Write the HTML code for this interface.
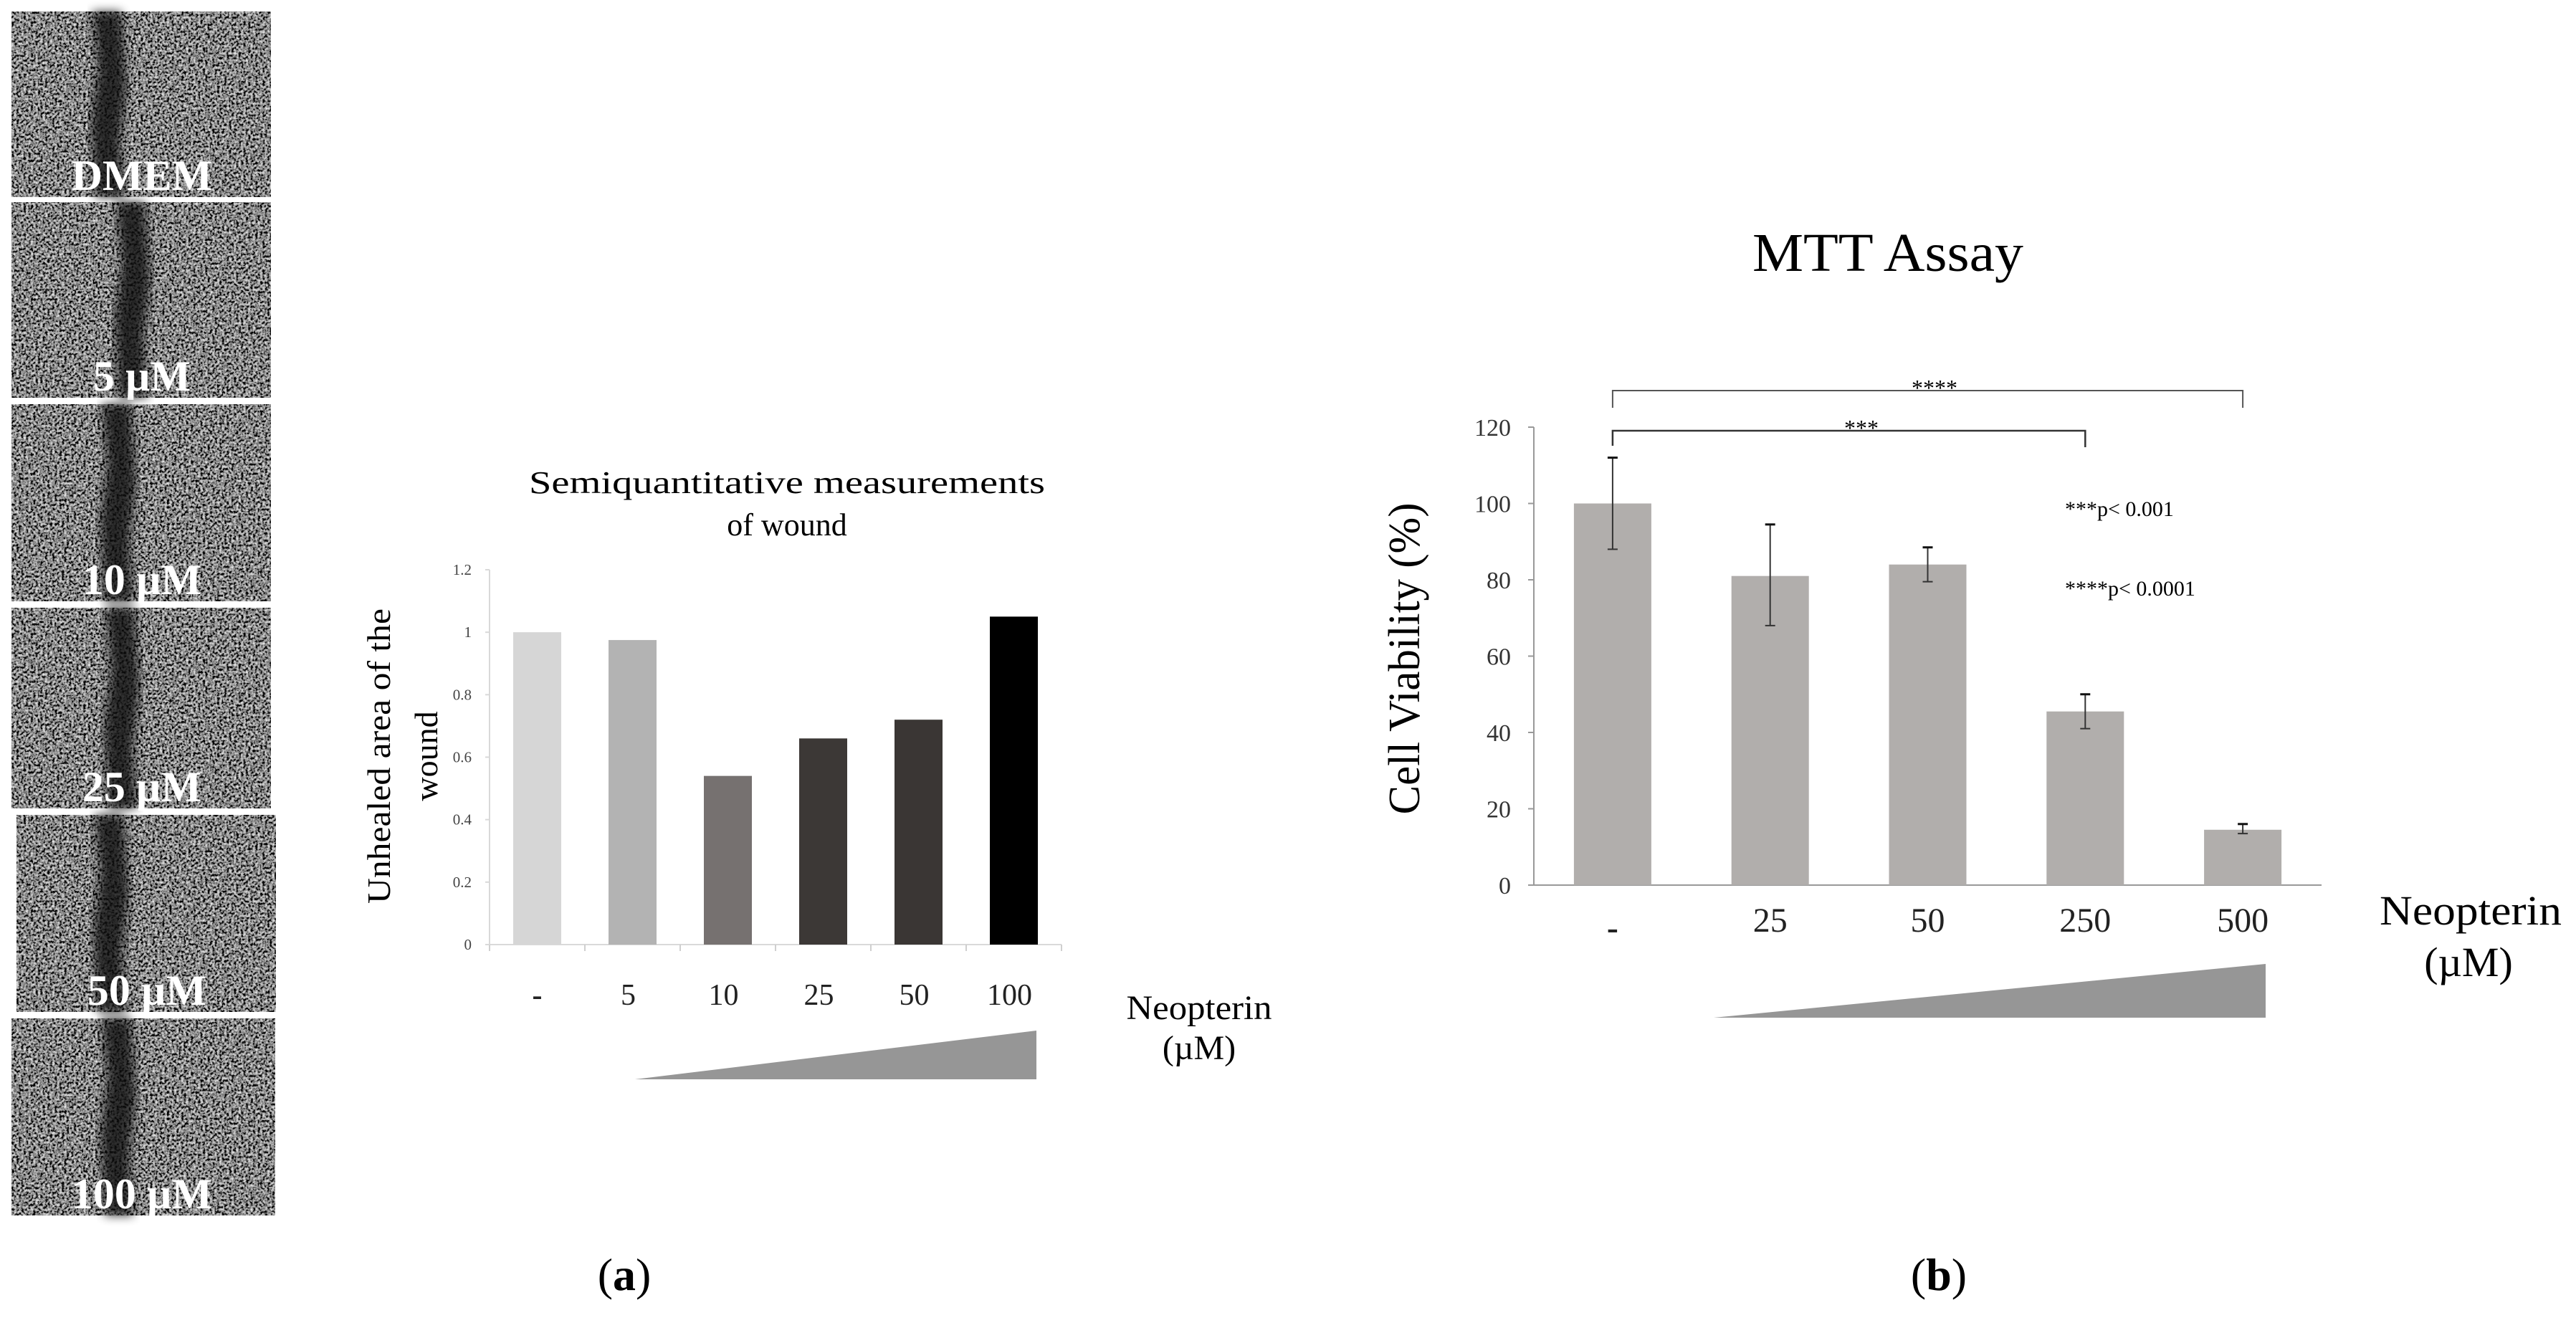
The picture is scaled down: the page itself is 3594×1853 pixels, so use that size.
<!DOCTYPE html>
<html><head><meta charset="utf-8"><style>
html,body{margin:0;padding:0;background:#fff;}
svg{display:block;font-family:"Liberation Serif",serif;}
</style></head><body>
<svg id="fig" width="3594" height="1853" viewBox="0 0 3594 1853" xmlns="http://www.w3.org/2000/svg">
<defs>
<filter id="noise" x="0" y="0" width="100%" height="100%">
<feTurbulence type="fractalNoise" baseFrequency="0.3" numOctaves="3" seed="4"/>
<feColorMatrix type="matrix" values="1.7 0 0 0 -0.6  1.7 0 0 0 -0.6  1.7 0 0 0 -0.6  0 0 0 0 1"/>
</filter>
<filter id="blur"><feGaussianBlur stdDeviation="7"/></filter>
</defs>
<g id="micro"></g>
<g id="chartA"></g>
<g id="chartB"></g>
<text x="871" y="1800" font-size="64" text-anchor="middle">(<tspan font-weight="bold">a</tspan>)</text>
<text x="2705" y="1800" font-size="64" text-anchor="middle">(<tspan font-weight="bold">b</tspan>)</text>
</svg>
<script>
const NS="http://www.w3.org/2000/svg";
function mk(parent,tag,attrs,text){const e=document.createElementNS(NS,tag);for(const k in attrs)e.setAttribute(k,attrs[k]);if(text!==undefined)e.textContent=text;parent.appendChild(e);return e;}

// ---- micrographs ----
const microLabels=["DMEM","5 µM","10 µM","25 µM","50 µM","100 µM"];
const microBoxes=[[16,16,362,259],[16,282,362,273],[16,564,362,275],[16,848,362,280],[23,1137,362,275],[16,1421,368,275]];
const woundX=[147,180,160,165,150,160];
const micro=document.getElementById('micro');
microBoxes.forEach((b,i)=>{
  const g=mk(micro,'g',{});
  
  
  mk(g,'rect',{x:b[0],y:b[1],width:b[2],height:b[3],fill:'#555',filter:'url(#noise)'});
  const cx=woundX[i];
  const p=`M${cx-18},${b[1]} L${cx+22},${b[1]} L${cx+30},${b[1]+b[3]*0.4} L${cx+20},${b[1]+b[3]*0.7} L${cx+26},${b[1]+b[3]} L${cx-14},${b[1]+b[3]} L${cx-20},${b[1]+b[3]*0.6} L${cx-10},${b[1]+b[3]*0.3} Z`;
  mk(g,'path',{d:p,fill:'#0a0a0a',opacity:'0.8',filter:'url(#blur)'});
  const t=mk(g,'text',{x:b[0]+182,y:b[1]+b[3]-10,'font-size':60,'font-weight':'bold',fill:'#fff','text-anchor':'middle'},microLabels[i]);
  
  
});

// ---- chart A data ----
const aCats=["-","5","10","25","50","100"];
const aVals=[1.0,0.975,0.54,0.66,0.72,1.05];
const aColors=["#d6d6d6","#b3b3b3","#767170","#3c3836","#3a3634","#000000"];
const aTicks=[0,0.2,0.4,0.6,0.8,1,1.2];
const aTickLabels=["0","0.2","0.4","0.6","0.8","1","1.2"];

(function(){
  const g=document.getElementById('chartA');
  const x0=683,x1=1481,y0=1318,yTop=795,yMax=1.2;
  const band=(x1-x0)/aCats.length;
  const ys=v=>y0-(v/yMax)*(y0-yTop);
  const xc=i=>x0+band*(i+0.5);
  let t=mk(g,'text',{x:1098,y:688,'font-size':44,'text-anchor':'middle',textLength:720,lengthAdjust:'spacingAndGlyphs'},"Semiquantitative measurements");
  
  t=mk(g,'text',{x:1098,y:747,'font-size':44,'text-anchor':'middle'},"of wound");
  
  mk(g,'line',{x1:x0,y1:yTop,x2:x0,y2:y0,stroke:'#d9d9d9','stroke-width':2});
  mk(g,'line',{x1:x0,y1:y0,x2:x1,y2:y0,stroke:'#d9d9d9','stroke-width':2});
  for(let i=0;i<=aCats.length;i++){mk(g,'line',{x1:x0+band*i,y1:y0,x2:x0+band*i,y2:y0+9,stroke:'#cfcfcf','stroke-width':2});}
  aTicks.forEach((v,i)=>{
    mk(g,'line',{x1:x0-6,y1:ys(v),x2:x0,y2:ys(v),stroke:'#d9d9d9','stroke-width':2});
    const l=mk(g,'text',{x:658,y:ys(v)+7,'font-size':21,'text-anchor':'end',fill:'#444'},aTickLabels[i]);
    
  });
  aVals.forEach((v,i)=>{
    const r=mk(g,'rect',{x:xc(i)-33.5,y:ys(v),width:67,height:y0-ys(v),fill:aColors[i]});
    
    const l=mk(g,'text',{x:xc(i)+(i===0?0:-6),y:1402,'font-size':42,'text-anchor':'middle',fill:'#222','font-weight':i===0?'bold':'normal'},aCats[i]);
    
  });
  t=mk(g,'text',{x:0,y:0,'font-size':46,'text-anchor':'middle',transform:'translate(544,1055) rotate(-90)',textLength:412,lengthAdjust:'spacingAndGlyphs'},"Unhealed area of the");
  
  t=mk(g,'text',{x:0,y:0,'font-size':46,'text-anchor':'middle',transform:'translate(610,1055) rotate(-90)'},"wound");
  
  const tri=mk(g,'polygon',{points:'886,1506 1446,1438 1446,1506',fill:'#969696'});
  
  t=mk(g,'text',{x:1673,y:1422,'font-size':48,'text-anchor':'middle',textLength:203,lengthAdjust:'spacingAndGlyphs'},"Neopterin");
  
  t=mk(g,'text',{x:1673,y:1478,'font-size':48,'text-anchor':'middle'},"(µM)");
  
})();

// ---- chart B data ----
const bCats=["-","25","50","250","500"];
const bVals=[100,81,84,45.5,14.5];
const bErrLow=[88,68,79.5,41,13.5];
const bErrHigh=[112,94.5,88.5,50,16];
const bTicks=[0,20,40,60,80,100,120];
const bTickLabels=["0","20","40","60","80","100","120"];

(function(){
  const g=document.getElementById('chartB');
  const x0=2140,x1=3239,y0=1235,yTop=596,yMax=120;
  const band=(x1-x0)/bCats.length;
  const ys=v=>y0-(v/yMax)*(y0-yTop);
  const xc=i=>x0+band*(i+0.5);
  let t=mk(g,'text',{x:2634,y:378,'font-size':76,'text-anchor':'middle',textLength:378,lengthAdjust:'spacingAndGlyphs'},"MTT Assay");
  
  mk(g,'line',{x1:x0,y1:yTop,x2:x0,y2:y0,stroke:'#999','stroke-width':2});
  mk(g,'line',{x1:x0,y1:y0,x2:x1,y2:y0,stroke:'#999','stroke-width':2});
  bTicks.forEach((v,i)=>{
    mk(g,'line',{x1:x0-8,y1:ys(v),x2:x0,y2:ys(v),stroke:'#999','stroke-width':2});
    const l=mk(g,'text',{x:2108,y:ys(v)+12,'font-size':34,'text-anchor':'end',fill:'#333'},bTickLabels[i]);
    
  });
  bVals.forEach((v,i)=>{
    const r=mk(g,'rect',{x:xc(i)-54,y:ys(v),width:108,height:y0-ys(v),fill:'#b1aeac'});
    
    const cx=xc(i);
    const e=mk(g,'g',{});
    
    mk(e,'line',{x1:cx,y1:ys(bErrLow[i]),x2:cx,y2:ys(bErrHigh[i]),stroke:'#333','stroke-width':2});
    mk(e,'line',{x1:cx-7,y1:ys(bErrLow[i]),x2:cx+7,y2:ys(bErrLow[i]),stroke:'#333','stroke-width':2});
    mk(e,'line',{x1:cx-7,y1:ys(bErrHigh[i]),x2:cx+7,y2:ys(bErrHigh[i]),stroke:'#111','stroke-width':3});
    const l=mk(g,'text',{x:cx,y:i===0?1310:1300,'font-size':48,'text-anchor':'middle',fill:'#222','font-weight':i===0?'bold':'normal'},bCats[i]);
    
  });
  const b1=mk(g,'polyline',{points:`${xc(0)},569 ${xc(0)},545 ${xc(4)},545 ${xc(4)},569`,fill:'none',stroke:'#555','stroke-width':2});
  
  t=mk(g,'text',{x:2699,y:552,'font-size':32,'text-anchor':'middle'},"****");
  
  const b2=mk(g,'polyline',{points:`${xc(0)},622 ${xc(0)},601 ${xc(3)},601 ${xc(3)},624`,fill:'none',stroke:'#333','stroke-width':2.5});
  
  t=mk(g,'text',{x:2597,y:608,'font-size':32,'text-anchor':'middle'},"***");
  
  t=mk(g,'text',{x:2881,y:720,'font-size':30},"***p< 0.001");
  
  t=mk(g,'text',{x:2881,y:831,'font-size':30},"****p< 0.0001");
  
  t=mk(g,'text',{x:0,y:0,'font-size':62,'text-anchor':'middle',transform:'translate(1980,919) rotate(-90)',textLength:435,lengthAdjust:'spacingAndGlyphs'},"Cell Viability (%)");
  
  const tri=mk(g,'polygon',{points:'2391,1420 3161,1345 3161,1420',fill:'#969696'});
  
  t=mk(g,'text',{x:3447,y:1290,'font-size':58,'text-anchor':'middle',textLength:254,lengthAdjust:'spacingAndGlyphs'},"Neopterin");
  
  t=mk(g,'text',{x:3444,y:1362,'font-size':58,'text-anchor':'middle'},"(µM)");
  
})();
</script>
</body></html>
